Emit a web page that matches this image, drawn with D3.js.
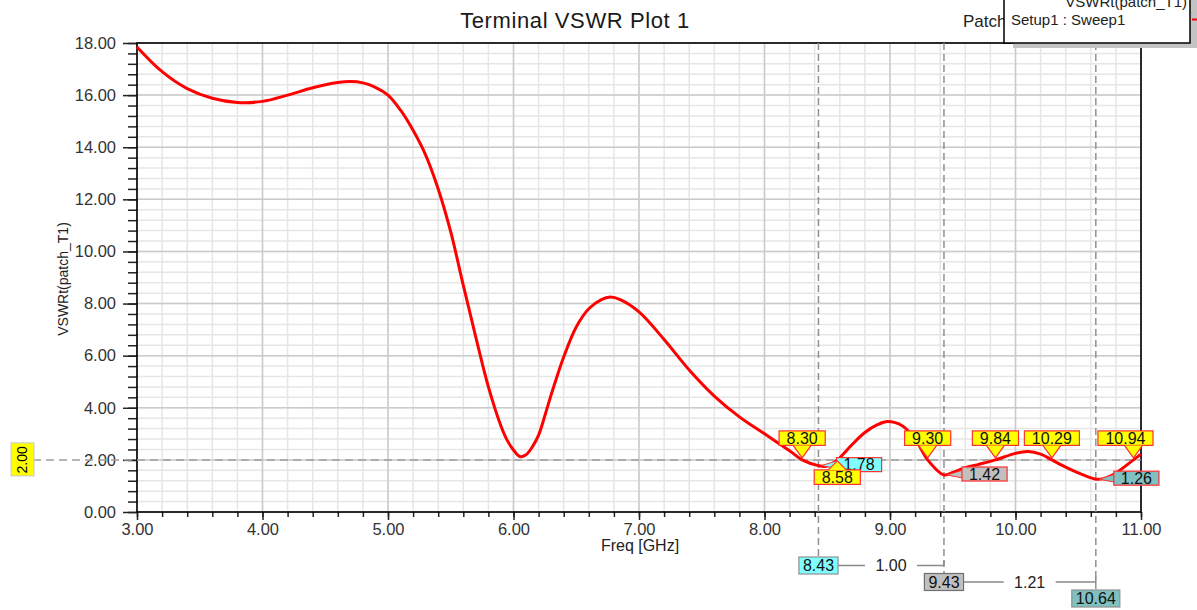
<!DOCTYPE html>
<html><head><meta charset="utf-8">
<script src="https://cdn.jsdelivr.net/npm/d3@7"></script>
<style>body{margin:0;background:#fff}svg{display:block}</style>
</head><body>
<svg id="c" width="1197" height="610"></svg>
<script>
// ---- data ----
const freq = [3.0,3.2,3.4,3.6,3.8,4.0,4.2,4.4,4.6,4.7,4.8,4.9,5.0,5.1,5.2,5.3,5.4,5.5,5.6,5.7,5.8,5.9,5.95,6.0,6.05,6.1,6.15,6.2,6.25,6.3,6.35,6.4,6.5,6.6,6.7,6.77,6.85,7.0,7.2,7.4,7.6,7.8,8.0,8.2,8.3,8.43,8.5,8.58,8.7,8.8,8.9,8.98,9.1,9.2,9.3,9.43,9.5,9.6,9.7,9.84,10.0,10.1,10.2,10.29,10.4,10.5,10.64,10.7,10.8,10.94,11.0];
const vswr = [17.85,16.9,16.25,15.88,15.72,15.76,16.0,16.28,16.48,16.52,16.47,16.3,16.0,15.42,14.65,13.7,12.4,10.75,8.7,6.7,4.8,3.3,2.75,2.38,2.13,2.2,2.5,2.95,3.7,4.5,5.25,5.95,7.1,7.8,8.15,8.25,8.15,7.68,6.62,5.45,4.45,3.65,3.0,2.35,2.0,1.78,1.76,2.0,2.6,3.05,3.35,3.47,3.3,2.8,2.0,1.42,1.52,1.7,1.82,2.0,2.25,2.32,2.22,2.0,1.72,1.5,1.26,1.28,1.5,2.0,2.22];
const xTicks = [3,4,5,6,7,8,9,10,11];
const yTicks = [0,2,4,6,8,10,12,14,16,18];
const refLevel = 2.00;
const crossFreqs = [8.30, 8.58, 9.30, 9.84, 10.29, 10.94];
const markerFreqs = [8.43, 9.43, 10.64];
const markerValues = [1.78, 1.42, 1.26];
const deltaLabels = ["1.00", "1.21"];
const titleText = "Terminal VSWR Plot 1";
const xLabel = "Freq [GHz]";
const yLabel = "VSWRt(patch_T1)";
const legendName = "VSWRt(patch_T1)";
const legendSetup = "Setup1 : Sweep1";
const projectText = "Patch";

// ---- layout ----
const svg = d3.select("#c");
const m = {l:137, r:1141, t:43, b:512};
const x = d3.scaleLinear().domain([3,11]).range([m.l,m.r]);
const y = d3.scaleLinear().domain([0,18]).range([m.b,m.t]);
const FONT = "'Liberation Sans', Arial, sans-serif";
const fmt = d3.format(".2f");
const xMinor = d3.range(3, 11.0001, 0.2);
const yMinor = d3.range(0, 18.0001, 0.4);

// grid
const grid = svg.append("g");
grid.selectAll(".gxm").data(xMinor).join("line")
  .attr("x1", d=>x(d)).attr("x2", d=>x(d)).attr("y1", m.t).attr("y2", m.b)
  .attr("stroke", "#e6e6e6").attr("stroke-width", 1.5);
grid.selectAll(".gym").data(yMinor).join("line")
  .attr("y1", d=>y(d)).attr("y2", d=>y(d)).attr("x1", m.l).attr("x2", m.r)
  .attr("stroke", "#e6e6e6").attr("stroke-width", 1.5);
grid.selectAll(".gx").data(xTicks).join("line")
  .attr("x1", d=>x(d)).attr("x2", d=>x(d)).attr("y1", m.t).attr("y2", m.b)
  .attr("stroke", "#cbcbcb").attr("stroke-width", 1.5);
grid.selectAll(".gy").data(yTicks).join("line")
  .attr("y1", d=>y(d)).attr("y2", d=>y(d)).attr("x1", m.l).attr("x2", m.r)
  .attr("stroke", "#cbcbcb").attr("stroke-width", 1.5);

// axes
function styleAxis(g){
  g.attr("font-size", null).attr("font-family", null);
  g.select(".domain").remove();
  g.selectAll(".tick line").attr("stroke", "#222").attr("stroke-width", 1.5);
  g.selectAll(".tick text").attr("font-family", FONT).attr("font-size", 16.5).attr("fill", "#333");
}
svg.append("g").attr("transform", `translate(${m.l},0)`)
  .call(d3.axisLeft(y).tickValues(yMinor).tickSize(9).tickFormat("")).call(styleAxis);
svg.append("g").attr("transform", `translate(${m.l},0)`)
  .call(d3.axisLeft(y).tickValues(yTicks).tickSize(14).tickPadding(7).tickFormat(fmt)).call(styleAxis);
svg.append("g").attr("transform", `translate(0,${m.b})`)
  .call(d3.axisBottom(x).tickValues(xMinor).tickSize(5).tickFormat("")).call(styleAxis);
svg.append("g").attr("transform", `translate(0,${m.b})`)
  .call(d3.axisBottom(x).tickValues(xTicks).tickSize(8).tickPadding(3).tickFormat(fmt)).call(styleAxis);

// frame
svg.append("rect").attr("x", m.l).attr("y", m.t).attr("width", m.r-m.l).attr("height", m.b-m.t)
  .attr("fill", "none").attr("stroke", "#000").attr("stroke-width", 1.6);

// reference level
const yRef = y(refLevel);
svg.append("line").attr("x1", 33).attr("x2", m.r).attr("y1", yRef).attr("y2", yRef)
  .attr("stroke", "#a0a0a0").attr("stroke-width", 1.5).attr("stroke-dasharray", "8,5");
svg.append("rect").attr("x", 11).attr("y", yRef-17).attr("width", 23).attr("height", 33)
  .attr("fill", "#ffff00").attr("stroke", "#c8c8c8").attr("stroke-width", 1);
svg.append("text").attr("transform", `translate(22.5,${yRef}) rotate(-90)`)
  .attr("text-anchor", "middle").attr("dy", "0.35em")
  .attr("font-family", FONT).attr("font-size", 14).attr("fill", "#000").text(fmt(refLevel));

// marker vertical lines + bottom boxes
const boxFill = ["#80ffff", "#c0c0c0", "#80c0c0"];
const boxStroke = ["#909090", "#707070", "#909090"];
const boxInfo = [];
markerFreqs.forEach((f, i) => {
  const top = 557 + i*16.5;
  svg.append("line").attr("x1", x(f)).attr("x2", x(f)).attr("y1", m.t).attr("y2", top)
    .attr("stroke", "#909090").attr("stroke-width", 1.5).attr("stroke-dasharray", "7,4");
  const g = svg.append("g");
  const r = g.append("rect");
  const t = g.append("text").attr("font-family", FONT).attr("font-size", 16).text(fmt(f));
  const w = t.node().getComputedTextLength() + 8;
  const bx = x(f) - w/2;
  r.attr("x", bx).attr("y", top).attr("width", w).attr("height", 17)
    .attr("fill", boxFill[i]).attr("stroke", boxStroke[i]).attr("stroke-width", 1.2);
  t.attr("x", x(f)).attr("y", top+8.5).attr("dy", "0.36em").attr("text-anchor", "middle").attr("fill", "#111");
  boxInfo.push({right: bx + w, cy: top + 8.5});
});
deltaLabels.forEach((lab, i) => {
  const x0 = boxInfo[i].right, x1 = x(markerFreqs[i+1]), cy = boxInfo[i].cy, mid = (x0+x1)/2;
  svg.append("line").attr("x1", x0).attr("x2", mid-26).attr("y1", cy).attr("y2", cy).attr("stroke", "#8a8a8a").attr("stroke-width", 1.5);
  svg.append("line").attr("x1", mid+26).attr("x2", x1).attr("y1", cy).attr("y2", cy).attr("stroke", "#8a8a8a").attr("stroke-width", 1.5);
  svg.append("line").attr("x1", x1).attr("x2", x1).attr("y1", cy).attr("y2", cy-5).attr("stroke", "#8a8a8a").attr("stroke-width", 1.5);
  svg.append("text").attr("x", mid).attr("y", cy).attr("dy", "0.36em").attr("text-anchor", "middle")
    .attr("font-family", FONT).attr("font-size", 16).attr("fill", "#222").text(lab);
});

// curve
const pts = freq.map((f, i) => [f, vswr[i]]);
svg.append("path").datum(pts)
  .attr("d", d3.line().x(d=>x(d[0])).y(d=>y(d[1])).curve(d3.curveCatmullRom.alpha(0.5)))
  .attr("fill", "none").attr("stroke", "#ff0000").attr("stroke-width", 3).attr("stroke-linejoin", "round");

// value labels at marker points
markerFreqs.forEach((f, i) => {
  const px = x(f), py = y(markerValues[i]);
  const bx = px + 18, cy = py - 1;
  const g = svg.append("g");
  const poly = g.append("polygon");
  const r = g.append("rect");
  const t = g.append("text").attr("font-family", FONT).attr("font-size", 16).text(fmt(markerValues[i]));
  const w = t.node().getComputedTextLength() + 14;
  poly.attr("points", `${px+3},${py} ${bx+1},${cy-4} ${bx+1},${cy+4}`)
    .attr("fill", boxFill[i]).attr("stroke", "#ff3030").attr("stroke-width", 1);
  r.attr("x", bx).attr("y", cy-7).attr("width", w).attr("height", 14)
    .attr("fill", boxFill[i]).attr("stroke", "#ff3030").attr("stroke-width", 1.2);
  t.attr("x", bx + w/2).attr("y", cy).attr("dy", "0.36em").attr("text-anchor", "middle").attr("fill", "#111");
});

// crossing markers
crossFreqs.forEach((f, i) => {
  const below = i > 0 && (f - crossFreqs[i-1]) < 0.35;
  const px = x(f);
  const g = svg.append("g");
  const r = g.append("rect");
  const poly = g.append("polygon");
  const pl = g.append("polyline");
  const t = g.append("text").attr("font-family", FONT).attr("font-size", 16).text(fmt(f));
  const w = t.node().getComputedTextLength() + 15;
  let bx = px - w/2;
  if (bx + w > m.r + 12) bx = m.r + 12 - w;
  const by = below ? yRef + 10 : yRef - 29;
  const h = 14.5;
  r.attr("x", bx).attr("y", by).attr("width", w).attr("height", h)
    .attr("fill", "#ffff00").attr("stroke", "#ff3030").attr("stroke-width", 1.2);
  const baseY = below ? by : by + h;
  const tipY = below ? yRef + 1 : yRef - 2;
  poly.attr("points", `${px-9},${baseY} ${px+9},${baseY} ${px},${tipY}`)
    .attr("fill", "#ffff00").attr("stroke", "none");
  pl.attr("points", `${px-9},${baseY} ${px},${tipY} ${px+9},${baseY}`)
    .attr("fill", "none").attr("stroke", "#ff3030").attr("stroke-width", 1.2);
  t.attr("x", bx + w/2).attr("y", by + h/2).attr("dy", "0.36em").attr("text-anchor", "middle").attr("fill", "#111");
});

// title
svg.append("text").attr("x", 575).attr("y", 28).attr("text-anchor", "middle")
  .attr("font-family", FONT).attr("font-size", 22).attr("letter-spacing", 0.6)
  .attr("fill", "#1a1a1a").text(titleText);

// axis labels
svg.append("text").attr("x", 640).attr("y", 551).attr("text-anchor", "middle")
  .attr("font-family", FONT).attr("font-size", 16).attr("fill", "#222").text(xLabel);
svg.append("text").attr("transform", "translate(68,279) rotate(-90)").attr("text-anchor", "middle")
  .attr("font-family", FONT).attr("font-size", 14).attr("fill", "#222").text(yLabel);

// legend
svg.append("defs").append("clipPath").attr("id", "projClip")
  .append("rect").attr("x", 940).attr("y", 0).attr("width", 64).attr("height", 40);
svg.append("text").attr("x", 963).attr("y", 27).attr("font-family", FONT).attr("font-size", 17)
  .attr("clip-path", "url(#projClip)").attr("fill", "#222").text(projectText);
svg.append("rect").attr("x", 1013).attr("y", -10).attr("width", 190).attr("height", 58).attr("fill", "#c4c4c4");
svg.append("rect").attr("x", 1004).attr("y", -10).attr("width", 186).attr("height", 53)
  .attr("fill", "#fff").attr("stroke", "#000").attr("stroke-width", 1.5);
svg.append("text").attr("x", 1187).attr("y", 7).attr("text-anchor", "end").attr("font-family", FONT)
  .attr("font-size", 15).attr("fill", "#222").text(legendName);
svg.append("text").attr("x", 1011).attr("y", 25).attr("font-family", FONT)
  .attr("font-size", 15).attr("fill", "#222").text(legendSetup);
svg.append("line").attr("x1", 1192).attr("x2", 1197).attr("y1", 19.5).attr("y2", 19.5)
  .attr("stroke", "#ff0000").attr("stroke-width", 2);
</script>
</body></html>
